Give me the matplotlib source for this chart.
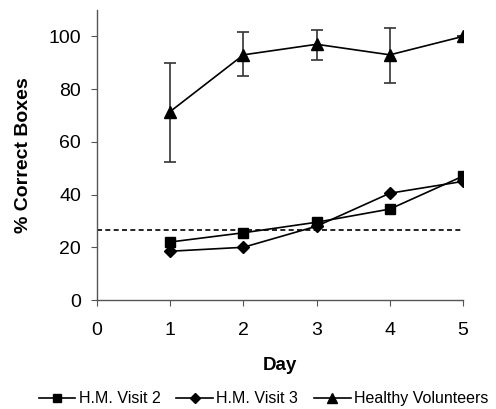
import matplotlib
matplotlib.use("Agg")
import matplotlib.pyplot as plt

plt.rcParams['font.family'] = ['Liberation Sans', 'DejaVu Sans']

days = [1, 2, 3, 4, 5]
hm_visit2 = [22, 25.5, 29.5, 34.5, 47]
hm_visit3 = [18.5, 20, 28, 40.5, 45]
healthy = [71.5, 93, 97, 93, 100]
healthy_err_low = [19, 8, 6, 10.5, 0]
healthy_err_high = [18.5, 8.5, 5.5, 10, 0]
chance_level = 26.5

fig = plt.figure(figsize=(4.96, 4.09), dpi=100)
ax = fig.add_axes([0.1956, 0.2665, 0.738, 0.709])

ax.plot([0, 5], [chance_level, chance_level], ls=(0, (3, 2)), color='black', lw=1.2)
ax.errorbar(days, healthy, yerr=[healthy_err_low, healthy_err_high], fmt='none',
            ecolor='#333333', elinewidth=1.2, capsize=4, capthick=1.2)
ax.plot(days, hm_visit2, marker='s', color='black', lw=1.2, ms=7, label='H.M. Visit 2')
ax.plot(days, hm_visit3, marker='D', color='black', lw=1.2, ms=6, label='H.M. Visit 3')
ax.plot(days, healthy, marker='^', color='black', lw=1.2, ms=8, label='Healthy Volunteers')

ax.set_xlim(0, 5)
ax.set_ylim(0, 110)
ax.set_xticks([0, 1, 2, 3, 4, 5])
ax.set_yticks([0, 20, 40, 60, 80, 100])
for s in ['top', 'right']:
    ax.spines[s].set_visible(False)
for s in ['left', 'bottom']:
    ax.spines[s].set_color('#555555')
    ax.spines[s].set_linewidth(1.0)
ax.tick_params(axis='x', direction='out', length=4.5, color='#555555', labelsize=14, pad=11)
ax.tick_params(axis='y', direction='out', length=4.5, color='#555555', labelsize=14, pad=7)
ax.set_xlabel('Day', fontsize=13.5, fontweight='bold', labelpad=13)
ax.set_ylabel('% Correct Boxes', fontsize=14, fontweight='bold', labelpad=12)

ax.legend(loc='center', bbox_to_anchor=(0.455, -0.34), ncol=3, frameon=False,
          fontsize=11.5, handlelength=2.3, handletextpad=0.2, columnspacing=1.0,
          markerscale=0.85)

fig.savefig('out.png', dpi=100)
